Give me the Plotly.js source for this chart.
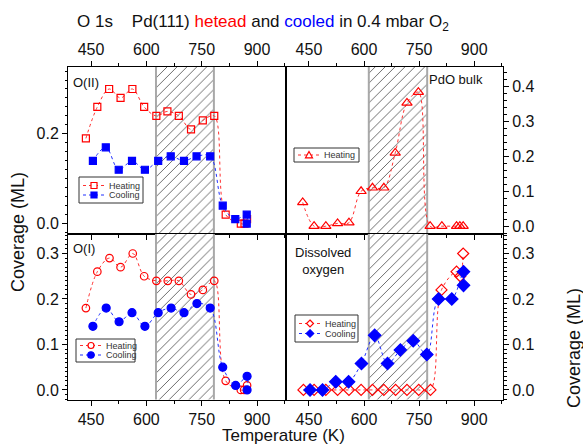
<!DOCTYPE html>
<html><head><meta charset="utf-8">
<script src="https://cdn.plot.ly/plotly-3.0.1.min.js"></script>
<style>html,body{margin:0;padding:0;background:#fff;overflow:hidden}#chart{width:583px;height:446px}</style>
</head><body><div id="chart"></div>
<script>
// ---- data ----
// O(II) panel (top-left)
const o2HeatT   = [436,467,499,530,562,594,627,657,688,721,753,784,815,856,866,873];
const o2HeatCov = [0.19,0.26,0.30,0.28,0.30,0.26,0.24,0.25,0.24,0.21,0.23,0.24,0.02,0.0,0.0,0.01];
const o2CoolT   = [455,490,525,561,596,632,666,702,736,773,807,841,872,872];
const o2CoolCov = [0.14,0.17,0.12,0.14,0.12,0.14,0.15,0.14,0.15,0.15,0.04,0.01,0.02,0.0];
// PdO bulk (top-right)
const pdoHeatT   = [433,464,496,528,559,592,623,654,685,717,748,780,812,852,861,870];
const pdoHeatCov = [0.068,0.0,0.0,0.008,0.01,0.10,0.11,0.11,0.21,0.353,0.384,0.0,0.0,0.0,0.0,0.0];
// O(I) panel (bottom-left)
const o1HeatT   = [436,467,500,530,563,594,627,658,688,721,753,784,815,856,865,873];
const o1HeatCov = [0.18,0.26,0.29,0.27,0.30,0.25,0.24,0.24,0.24,0.21,0.22,0.24,0.02,0.0,0.0,0.01];
const o1CoolT   = [455,491,526,561,596,632,667,702,737,773,807,842,873,873];
const o1CoolCov = [0.14,0.18,0.15,0.17,0.14,0.17,0.18,0.17,0.19,0.18,0.05,0.01,0.03,0.0];
// Dissolved oxygen (bottom-right)
const dissHeatT   = [435,464,496,528,559,592,623,654,686,717,749,781,811,852,862,870];
const dissHeatCov = [0,0,0,0,0,0,0,0,0,0,0,0,0.22,0.26,0.25,0.30];
const dissCoolT   = [453,487,523,558,593,629,664,699,734,771,803,839,871,871];
const dissCoolCov = [0,0,0.018,0.018,0.058,0.12,0.058,0.088,0.108,0.078,0.20,0.20,0.26,0.23];
// hatched temperature windows
const hatchLeftT  = [626, 783];
const hatchRightT = [613, 772];
// labels
const legendNames = ['Heating', 'Cooling'];
const panelLabels = ['O(II)', 'PdO bulk', 'O(I)', 'Dissolved<br>oxygen'];

// ---- helpers ----
const W = 583, H = 446;
const px = x => x / W, py = y => 1 - y / H;
const FONT = 'Liberation Sans, Arial, Helvetica, sans-serif';
const RED = '#ff0000', BLUE = '#0000ff';
const LRED = '#ff3030', LBLUE = '#2030ff';

function hatch(win, xa, ya) {
  return {type:'bar', x:[(win[0]+win[1])/2], width:[win[1]-win[0]], base:[-1], y:[2],
    xaxis:xa, yaxis:ya, showlegend:false, hoverinfo:'skip',
    marker:{color:'white', pattern:{shape:'/', fgcolor:'#6a6a6a', bgcolor:'white', size:7, solidity:0.14},
            line:{color:'#a8a8a8', width:2}}};
}
function series(x, y, xa, ya, name, color, lcolor, symbol, size) {
  return {type:'scatter', mode:'lines+markers', x, y, xaxis:xa, yaxis:ya, name, showlegend:false,
    line:{shape:'spline', smoothing:1, dash:'dot', width:1, color:lcolor},
    marker:{symbol, size, color, line:{color, width:1.2}}, cliponaxis:false};
}

const traces = [
  hatch(hatchLeftT,'x','y'), hatch(hatchRightT,'x2','y2'),
  hatch(hatchLeftT,'x3','y3'), hatch(hatchRightT,'x4','y4'),
  series(o2HeatT, o2HeatCov, 'x','y', legendNames[0], RED, LRED, 'square-open', 7),
  series(o2CoolT, o2CoolCov, 'x','y', legendNames[1], BLUE, LBLUE, 'square', 7),
  series(pdoHeatT, pdoHeatCov, 'x2','y2', legendNames[0], RED, LRED, 'triangle-up-open', 9),
  series(o1HeatT, o1HeatCov, 'x3','y3', legendNames[0], RED, LRED, 'circle-open', 7.5),
  series(o1CoolT, o1CoolCov, 'x3','y3', legendNames[1], BLUE, LBLUE, 'circle', 8),
  series(dissHeatT, dissHeatCov, 'x4','y4', legendNames[0], RED, LRED, 'diamond-open', 8.5),
  series(dissCoolT, dissCoolCov, 'x4','y4', legendNames[1], BLUE, LBLUE, 'diamond', 9.5)
];

const xL = [px(68), px(286)], xR = [px(286), px(503)];
const yT = [py(233.5), py(67)], yB = [py(399.5), py(233.5)];
const tickFont = {family:FONT, size:16, color:'#111'};

function xax(domain, anchor, top) {
  return {domain, anchor, range:[387.5, 978.5], dtick:150, tick0:0, side: top ? 'top' : 'bottom',
    showline:true, linecolor:'#000', linewidth:1, mirror: top ? 'allticks' : true,
    ticks:'outside', ticklen:5, tickwidth:1, tickcolor:'#000', showgrid:false, zeroline:false,
    tickfont:tickFont, minor:{dtick:75, tick0:0, ticks:'outside', ticklen:3, tickcolor:'#000', showgrid:false},
    fixedrange:true};
}
function yax(domain, anchor, range, dtick, mdtick, right) {
  return {domain, anchor, range, dtick, tick0:0, side: right ? 'right' : 'left', tickformat:'.1f',
    showline:true, linecolor:'#000', linewidth:1, mirror:true,
    ticks:'outside', ticklen:5, tickwidth:1, tickcolor:'#000', showgrid:false, zeroline:false,
    tickfont:tickFont, minor:{dtick:mdtick, tick0:0, ticks:'outside', ticklen:2.5, tickcolor:'#000', showgrid:false},
    fixedrange:true};
}
function ann(text, x, y, opts) {
  return Object.assign({text, x:px(x), y:py(y), xref:'paper', yref:'paper', showarrow:false,
    xanchor:'left', yanchor:'middle', font:{family:FONT, size:13, color:'#111'}}, opts || {});
}

// ---- compact legends (box, dotted sample line, marker glyph, label) ----
const shapes = [], legendAnns = [];
function pshape(o) { shapes.push(Object.assign({xref:'paper', yref:'paper', layer:'above'}, o)); }
function marker(sym, cx, cy, s, color) {
  const filled = !/open/.test(sym), h = s / 2;
  const st = {line:{color, width:1.2}, fillcolor: filled ? color : 'white'};
  if (/square/.test(sym)) pshape(Object.assign({type:'rect', x0:px(cx-h), x1:px(cx+h), y0:py(cy+h), y1:py(cy-h)}, st));
  else if (/circle/.test(sym)) pshape(Object.assign({type:'circle', x0:px(cx-h), x1:px(cx+h), y0:py(cy+h), y1:py(cy-h)}, st));
  else if (/triangle/.test(sym)) pshape(Object.assign({type:'path',
    path:`M${px(cx)},${py(cy-h)} L${px(cx+h)},${py(cy+h*0.8)} L${px(cx-h)},${py(cy+h*0.8)} Z`}, st));
  else pshape(Object.assign({type:'path',
    path:`M${px(cx)},${py(cy-h)} L${px(cx+h)},${py(cy)} L${px(cx)},${py(cy+h)} L${px(cx-h)},${py(cy)} Z`}, st));
}
function compactLegend(box, items) {
  pshape({type:'rect', x0:px(box[0]), x1:px(box[1]), y0:py(box[3]), y1:py(box[2]),
    line:{color:'#333', width:1}, fillcolor:'white'});
  items.forEach(it => {
    pshape({type:'line', x0:px(box[0]+4), x1:px(box[0]+26), y0:py(it.y), y1:py(it.y),
      line:{color:it.lcolor, width:1, dash:'dot'}});
    marker(it.sym, box[0]+15, it.y, it.s, it.color);
    legendAnns.push(ann(it.name, box[0]+28, it.y, {font:{family:FONT, size:9, color:'#333'}}));
  });
}
compactLegend([79, 143, 177, 203], [
  {name:legendNames[0], y:185.5, sym:'square-open', s:6, color:RED, lcolor:LRED},
  {name:legendNames[1], y:195, sym:'square', s:6, color:BLUE, lcolor:LBLUE}]);
compactLegend([294, 359, 148, 162], [
  {name:legendNames[0], y:155, sym:'triangle-up-open', s:7, color:RED, lcolor:LRED}]);
compactLegend([76, 135, 339, 362], [
  {name:legendNames[0], y:345.5, sym:'circle-open', s:6, color:RED, lcolor:LRED},
  {name:legendNames[1], y:355, sym:'circle', s:6.5, color:BLUE, lcolor:LBLUE}]);
compactLegend([295, 358, 315, 342], [
  {name:legendNames[0], y:323.5, sym:'diamond-open', s:7, color:RED, lcolor:LRED},
  {name:legendNames[1], y:333.5, sym:'diamond', s:7.5, color:BLUE, lcolor:LBLUE}]);

const layout = {
  width:W, height:H, margin:{l:0, r:0, t:0, b:0}, paper_bgcolor:'white', plot_bgcolor:'white',
  font:{family:FONT, color:'#111'}, barmode:'overlay', bargap:0, showlegend:false,
  xaxis: xax(xL, 'y', true),
  xaxis2: xax(xR, 'y2', true),
  xaxis3: xax(xL, 'y3', false),
  xaxis4: xax(xR, 'y4', false),
  yaxis: yax(yT, 'x', [-0.022, 0.349], 0.2, 0.02, false),
  yaxis2: yax(yT, 'x2', [-0.021, 0.456], 0.1, 0.02, true),
  yaxis3: yax(yB, 'x3', [-0.021, 0.344], 0.1, 0.01, false),
  yaxis4: yax(yB, 'x4', [-0.021, 0.344], 0.1, 0.01, true),
  shapes,
  annotations: [
    ann('O 1s\u00a0\u00a0\u00a0\u00a0Pd(111) <span style="color:#ff0000">hetead</span> and <span style="color:#0000ff">cooled</span> in 0.4 mbar O<sub>2</sub>',
      75, 23, {font:{family:FONT, size:17, color:'#111'}}),
    ann(panelLabels[0], 71, 83),
    ann(panelLabels[1], 485, 80, {xanchor:'right'}),
    ann(panelLabels[2], 71, 248),
    ann(panelLabels[3], 323, 261, {xanchor:'center', align:'center'}),
    ann('Coverage (ML)', 18, 232, {xanchor:'center', textangle:-90, font:{family:FONT, size:18, color:'#111'}}),
    ann('Coverage (ML)', 574, 348, {xanchor:'center', textangle:-90, font:{family:FONT, size:18, color:'#111'}}),
    ann('Temperature (K)', 283, 435, {xanchor:'center', borderpad:0, font:{family:FONT, size:17, color:'#111'}})
  ].concat(legendAnns)
};

Plotly.newPlot('chart', traces, layout, {displayModeBar:false, staticPlot:true});
</script>
</body></html>
